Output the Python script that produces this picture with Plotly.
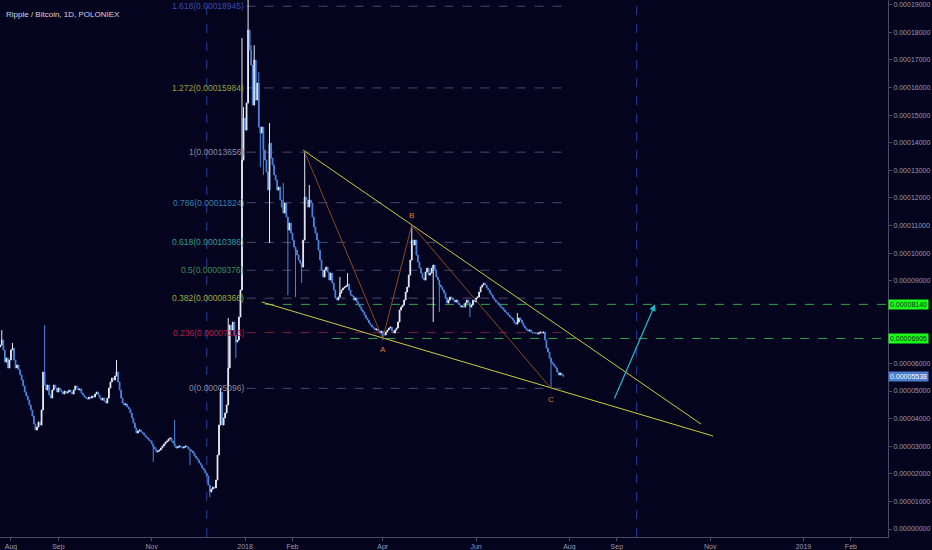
import pandas as pd
import plotly.graph_objects as go

# XRP/BTC daily closes in satoshi (1e-8 BTC), 2017-07-25 .. 2018-07-28
close_jul17 = [6666, 6847, 6485, 6050, 6195, 5833, 6123]
close_aug17 = [6485, 6558, 6123, 5833, 5942, 5761, 5579, 5398, 5181, 4964, 4819, 4674, 4493, 4311, 4094, 3804,
               3587, 3695, 3877, 3768, 4311, 5688, 5217, 5036, 5217, 4855, 4746, 5036, 5217, 5108, 4964]
close_sep17 = [5108, 5036, 4964, 4891, 5000, 4927, 4964, 5036, 4964, 4891, 5036, 5181, 5108, 5036, 5072,
               4927, 4855, 4782, 4746, 4710, 4782, 4746, 4819, 4782, 4891, 4964, 4855, 4746, 4674, 4746]
close_oct17 = [4637, 4565, 4746, 5108, 5326, 5471, 5398, 5543, 5688, 5326, 5036, 4746, 4565, 4493, 4529, 4420,
               4348, 4203, 4022, 3840, 3659, 3478, 3551, 3587, 3514, 3478, 3406, 3333, 3297, 3224, 3188]
close_nov17 = [3080, 2971, 2898, 2790, 2826, 2862, 2935, 3007, 3080, 3152, 3188, 3261, 3297, 3188, 3116,
               3007, 2935, 2971, 3007, 2971, 2935, 2971, 3007, 2971, 2898, 2862, 2826, 2753, 2645, 2572]
close_dec17 = [2500, 2391, 2319, 2210, 2138, 2029, 1920, 1594, 1341, 1449, 1522, 1485, 1775, 2681, 3768, 4964,
               3768, 4022, 4203, 4493, 5833, 7391, 7210, 7500, 7029, 6775, 6847, 7681, 8659, 13369, 14891]
close_jan18 = [14456, 15434, 18079, 17354, 16811, 15362, 16992, 15543, 16159, 14564, 14347, 14564, 13731,
               13369, 12934, 12282, 13985, 13441, 13188, 12825, 12644, 12282, 12391, 11920, 11666, 11449,
               11811, 11304, 10833, 11086, 10724]
close_feb18 = [10470, 10217, 10108, 9927, 9746, 9637, 9492, 10470, 12028, 11920, 11666, 11920, 11811, 11304,
               10941, 10724, 10470, 10108, 9746, 9384, 9130, 9384, 9492, 9311, 9021, 9275, 8913, 8659]
close_mar18 = [8369, 8297, 8405, 8550, 8659, 8731, 8767, 8804, 8876, 8659, 8478, 8442, 8297, 8369, 8224, 8116,
               8043, 7934, 7862, 7753, 7645, 7572, 7463, 7391, 7318, 7282, 7210, 7246, 7174, 7101, 7174]
close_apr18 = [7065, 7029, 7137, 7210, 7282, 7318, 7174, 7101, 7210, 7282, 7500, 7934, 8043, 8116, 8297,
               8587, 8767, 9202, 9746, 10470, 10289, 10470, 9927, 9673, 9456, 9275, 9094, 9021, 9311, 9456]
close_may18 = [9202, 9275, 9456, 9565, 9384, 9130, 9021, 8840, 8767, 8659, 8550, 8369, 8188, 8297, 8405, 8369,
               8297, 8224, 8297, 8188, 8116, 8043, 8079, 8043, 8188, 8297, 8188, 8043, 8116, 8297, 8224]
close_jun18 = [8369, 8405, 8587, 8767, 8840, 8913, 8840, 8731, 8659, 8550, 8478, 8369, 8297, 8224, 8188,
               8116, 8043, 8007, 7934, 7862, 7826, 7753, 7681, 7645, 7572, 7463, 7427, 7500, 7645, 7572]
close_jul18 = [7463, 7355, 7282, 7210, 7174, 7210, 7137, 7101, 7101, 7101, 7065, 7101, 7137, 7101, 7137,
               6847, 6558, 6413, 6195, 6050, 5978, 5906, 5833, 5688, 5579, 5652, 5579, 5538]

first_open = 6600

# wicks that stand out: date -> (high, low); None = no visible wick
wicks = {
    "2017-07-26": (7210, None), "2017-08-02": (6739, None), "2017-08-23": (7391, None),
    "2017-10-09": (6123, None), "2017-11-02": (None, 2427), "2017-11-16": (3949, None),
    "2017-11-26": (None, 2319), "2017-12-09": (None, 1159), "2017-12-16": (5108, None),
    "2017-12-21": (7645, None), "2017-12-26": (None, 6195), "2017-12-29": (8550, None),
    "2017-12-30": (17789, None), "2017-12-31": (15289, None), "2018-01-03": (19347, None),
    "2018-01-05": (17535, None), "2018-01-07": (17535, None), "2018-01-10": (16557, None),
    "2018-01-11": (None, 13115), "2018-01-13": (None, 12825), "2018-01-17": (14709, 10362),
    "2018-01-26": (12536, None), "2018-01-29": (None, 8478), "2018-02-03": (None, 8405),
    "2018-02-07": (None, 8913), "2018-02-09": (13656, None), "2018-02-12": (12463, None),
    "2018-03-04": (9130, None), "2018-03-09": (9275, None), "2018-04-01": (None, 6847),
    "2018-04-20": (11014, None), "2018-05-04": (None, 7500), "2018-05-08": (None, 7862),
    "2018-05-28": (None, 7681), "2018-06-28": (7826, None), "2018-07-20": (None, 5096),
}

# fibonacci retracement
fib_ratios = [0, 0.236, 0.382, 0.5, 0.618, 0.786, 1, 1.272, 1.618]
fib_prices = [5096, 7116, 8366, 9376, 10386, 11824, 13656, 15984, 18945]
fib_colors = ["#8a8a9c", "#b0204a", "#9aab3a", "#3f8a52", "#2e9e98", "#3a80b4", "#868aa6", "#93a040", "#3a4cb0"]
fib_span = ["2018-01-02", "2018-08-01"]

# horizontal targets marked on the price scale
mark_prices = [8140, 6905]
mark_starts = ["2018-01-14", "2018-02-27"]
last_price = 5538

# drawings
upper_dates, upper_prices = ["2018-02-08", "2018-10-26"], [13731, 3804]
lower_dates, lower_prices = ["2018-01-12", "2018-11-03"], [8224, 3369]
abc_dates = ["2018-02-09", "2018-04-01", "2018-04-20", "2018-07-20"]
abc_prices = [13656, 6900, 11010, 5096]
abc_labels = ["", "A", "B", "C"]
arrow_dates, arrow_prices = ["2018-08-30", "2018-09-26"], [4674, 8140]
vline_dates = ["2017-12-07", "2018-09-14"]

x_ticks = ["2017-08-01", "2017-09-01", "2017-11-01", "2018-01-01", "2018-02-01", "2018-04-01",
           "2018-06-01", "2018-08-01", "2018-09-01", "2018-11-01", "2019-01-01", "2019-02-01"]
x_labels = ["Aug", "Sep", "Nov", "2018", "Feb", "Apr", "Jun", "Aug", "Sep", "Nov", "2019", "Feb"]
# price scale steps (sat); 7000 and 8000 sit under the marked labels
y_ticks = [0, 1000, 2000, 3000, 4000, 5000, 6000, 9000, 10000, 11000, 12000, 13000, 14000, 15000,
           16000, 17000, 18000, 19000]

SAT = 1e-8
BG = "#04041f"
AXIS_TXT = "#9a9aae"
FONT = "Liberation Sans"

closes = (close_jul17 + close_aug17 + close_sep17 + close_oct17 + close_nov17 + close_dec17 + close_jan18
          + close_feb18 + close_mar18 + close_apr18 + close_may18 + close_jun18 + close_jul18)
dates = pd.date_range("2017-07-25", periods=len(closes), freq="D")
opens = [first_open] + closes[:-1]
highs, lows = [], []
for d, o, c in zip(dates, opens, closes):
    hi, lo = wicks.get(d.strftime("%Y-%m-%d"), (None, None))
    highs.append(max(o, c) if hi is None else max(hi, o, c))
    lows.append(min(o, c) if lo is None else min(lo, o, c))

fig = go.Figure()

# vertical dashed markers
for d in vline_dates:
    fig.add_shape(type="line", xref="x", yref="paper", x0=d, x1=d, y0=0, y1=1,
                  line=dict(color="#2b3f9c", width=1, dash="dash"), layer="below")

# fib levels
for r, p, col in zip(fib_ratios, fib_prices, fib_colors):
    fig.add_shape(type="line", xref="x", yref="y", x0=fib_span[0], x1=fib_span[1], y0=p * SAT, y1=p * SAT,
                  line=dict(color="#7a1f3e" if r == 0.236 else "#4a4a6e", width=1, dash="dash"), layer="below")
    fig.add_annotation(x=fib_span[0], y=p * SAT, text=f"{r:g}({p * SAT:.8f})", showarrow=False,
                       xanchor="right", yanchor="middle", xshift=-1,
                       font=dict(family=FONT, size=8.5, color=col))

# green targets
for p, s in zip(mark_prices, mark_starts):
    fig.add_shape(type="line", xref="x", yref="y", x0=s, x1="2019-03-10", y0=p * SAT, y1=p * SAT,
                  line=dict(color="#2aa84a", width=1, dash="dash"), layer="below")

fig.add_trace(go.Candlestick(
    x=dates, open=[v * SAT for v in opens], high=[v * SAT for v in highs],
    low=[v * SAT for v in lows], close=[v * SAT for v in closes],
    increasing=dict(line=dict(color="#e8ecf4", width=1), fillcolor="#ffffff"),
    decreasing=dict(line=dict(color="#4a86e0", width=1), fillcolor="#3c78d8"),
    whiskerwidth=0, showlegend=False, hoverinfo="skip"))

# wedge
fig.add_trace(go.Scatter(x=upper_dates, y=[v * SAT for v in upper_prices], mode="lines",
                         line=dict(color="#cccc3c", width=1), showlegend=False, hoverinfo="skip"))
fig.add_trace(go.Scatter(x=lower_dates, y=[v * SAT for v in lower_prices], mode="lines",
                         line=dict(color="#cccc3c", width=1), showlegend=False, hoverinfo="skip"))
# abc
fig.add_trace(go.Scatter(x=abc_dates, y=[v * SAT for v in abc_prices], mode="lines",
                         line=dict(color="#8a4a24", width=1), showlegend=False, hoverinfo="skip"))
for d, p, lab in zip(abc_dates, abc_prices, abc_labels):
    if lab:
        fig.add_annotation(x=d, y=p * SAT, text=lab, showarrow=False,
                           yshift=10 if lab == "B" else -11,
                           font=dict(family=FONT, size=8, color="#e07a24"))

# projection arrow
fig.add_annotation(x=arrow_dates[1], y=arrow_prices[1] * SAT, ax=arrow_dates[0], ay=arrow_prices[0] * SAT,
                   xref="x", yref="y", axref="x", ayref="y", text="", showarrow=True,
                   arrowhead=2, arrowsize=1, arrowwidth=1.3, arrowcolor="#22b4c6")

# price scale labels
for p in mark_prices:
    fig.add_annotation(xref="paper", x=1, y=p * SAT, text=f"{p * SAT:.8f}", showarrow=False,
                       xanchor="left", yanchor="middle", bgcolor="#19ff19", borderpad=1,
                       font=dict(family=FONT, size=7, color="#0a2a0a"))
fig.add_annotation(xref="paper", x=1, y=last_price * SAT, text=f"{last_price * SAT:.8f}", showarrow=False,
                   xanchor="left", yanchor="middle", bgcolor="#4a7cd0", borderpad=1,
                   font=dict(family=FONT, size=7, color="#ffffff"))

# title
fig.add_annotation(xref="paper", yref="paper", x=0.005, y=0.985, text="Ripple / Bitcoin, 1D, POLONIEX",
                   showarrow=False, xanchor="left", yanchor="top",
                   font=dict(family=FONT, size=8, color="#d4d6e0"))

fig.update_layout(
    width=932, height=550,
    margin=dict(l=0, r=44, t=0, b=13),
    paper_bgcolor=BG, plot_bgcolor=BG,
    showlegend=False,
    xaxis=dict(type="date", range=["2017-07-24 20:00", "2019-02-25 06:00"], rangeslider=dict(visible=False),
               showgrid=False, zeroline=False, tickvals=x_ticks, ticktext=x_labels,
               tickfont=dict(family=FONT, size=7, color=AXIS_TXT),
               showline=True, linecolor="#4a4c66", ticks="outside", ticklen=3, tickcolor="#4a4c66"),
    yaxis=dict(side="right", range=[-0.0000029, 0.0001917], tickvals=[v * SAT for v in y_ticks],
               tickformat=".8f", showgrid=False, zeroline=False, showline=True, linecolor="#4a4c66",
               ticks="outside", ticklen=3, tickcolor="#4a4c66",
               tickfont=dict(family=FONT, size=7, color=AXIS_TXT)),
)

# page body has a default margin that would shift the figure
fig.write_html("out.html", config={"displayModeBar": False},
               post_script="document.body.style.margin='0';document.body.style.background='%s';" % BG)
